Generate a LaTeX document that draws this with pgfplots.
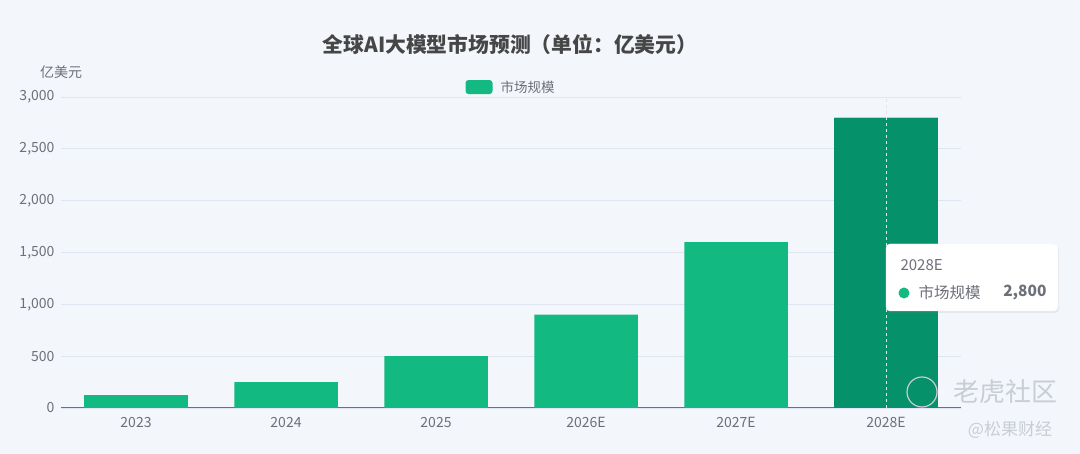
\documentclass[border=0pt]{standalone}
\usepackage{fontspec}
\setmainfont{Noto Sans CJK SC}
\usepackage{pgfplots}
\pgfplotsset{compat=1.18}
\usetikzlibrary{shadows}
\definecolor{bg}{HTML}{F3F6FB}
\definecolor{barG}{HTML}{12B981}
\definecolor{barD}{HTML}{05926A}
\definecolor{titlec}{HTML}{464646}
\definecolor{tickc}{HTML}{6E7079}
\definecolor{gridc}{HTML}{E0E6F1}
\definecolor{wm}{HTML}{C9CDD4}
\begin{document}
\begin{tikzpicture}[x=1pt,y=1pt]
\fill[bg] (0,0) rectangle (1080,454);
\useasboundingbox (0,0) rectangle (1080,454);
\node[font=\bfseries\fontsize{20.8}{24}\selectfont, text=titlec] at (510,410) {全球AI大模型市场预测（单位：亿美元）};
\node[font=\fontsize{14}{16}\selectfont, text=tickc] at (61,382) {亿美元};
\begin{axis}[
  at={(61pt,46pt)}, anchor=south west,
  scale only axis, width=900pt, height=311pt,
  xmin=-0.5, xmax=5.5, ymin=0, ymax=3000,
  xtick={0,1,2,3,4,5},
  xticklabels={2023,2024,2025,2026E,2027E,2028E},
  major x tick style={draw=none},
  extra x ticks={-0.5,0.5,1.5,2.5,3.5,4.5,5.5},
  extra x tick labels={},
  extra x tick style={major tick length=5pt, tick style={draw=tickc, line width=0.8pt}, tick align=outside, grid=none},
  ytick={0,500,1000,1500,2000,2500,3000},
  ymajorgrids, grid style={draw=gridc, line width=0.8pt},
  major y tick style={draw=none},
  axis x line*=bottom, axis y line*=left,
  y axis line style={draw=none},
  x axis line style={draw=tickc, line width=1pt, -},
  scaled y ticks=false,
  /pgf/number format/assume math mode=true,
  yticklabel={\pgfmathprintnumber[1000 sep={,}]{\tick}},
  ticklabel style={font=\fontsize{14}{16}\selectfont, text=tickc},
  yticklabel style={xshift=-3pt},
  xticklabel style={yshift=-6pt},
  legend style={at={(0.5,1.032)}, anchor=center, draw=none, fill=none, font=\fontsize{13.5}{16}\selectfont, text=tickc, inner sep=0pt, /tikz/every even column/.append style={column sep=5pt}},
  legend image code/.code={\fill[barG, rounded corners=3pt] (0pt,-7pt) rectangle (27pt,7pt);},
  legend cell align=left,
]
\addplot[ybar, bar width=0.69, bar shift=0pt, fill=barG, draw=none] coordinates {(0,125) (1,250) (2,500) (3,900) (4,1600) (5,2800)};
\addlegendentry{\hspace{6pt}市场规模}
\addplot[ybar, bar width=0.69, bar shift=0pt, fill=barD, draw=none, forget plot] coordinates {(5,2800)};
\draw[dashed, draw=white!80!gray, line width=0.8pt] (axis cs:5,0) -- (axis cs:5,3000);
\end{axis}
% tooltip
\draw[fill=white, draw=white!92!gray, rounded corners=4pt, drop shadow={opacity=0.12, shadow xshift=1pt, shadow yshift=-2pt}] (886,143) rectangle (1058,210);
\node[anchor=west, font=\fontsize{15}{17}\selectfont, text=tickc] at (897,189) {2028E};
\fill[barG] (904,161) circle (5.5);
\node[anchor=west, font=\fontsize{15.5}{17}\selectfont, text=tickc] at (915,161) {市场规模};
\node[anchor=east, font=\bfseries\fontsize{15.5}{17}\selectfont, text=tickc] at (1050,161) {2,800};
% watermark
\draw[wm, line width=1.2pt] (922,62) circle (15);
\node[font=\fontsize{26}{28}\selectfont, text=wm] at (1005,62) {老虎社区};
\node[font=\fontsize{17}{18}\selectfont, text=wm] at (1010,24) {@松果财经};
\end{tikzpicture}
\end{document}
